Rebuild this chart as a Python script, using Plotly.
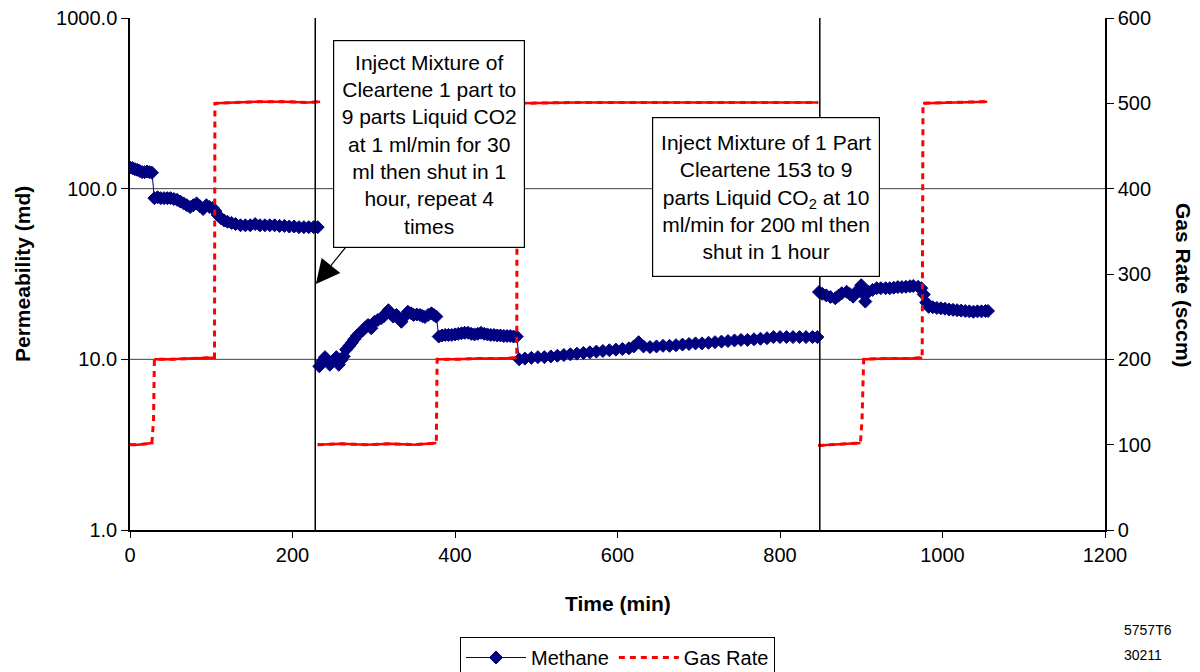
import plotly.graph_objects as go
import math

# ---------------- data ----------------
# Methane permeability (md) vs time (min); None marks gaps between test stages
meth_t = [0, 3, 6, 9, 12, 15, 18, 21, 24, 27, 30, 34, 38, 42, 46, 50, 54, 58, 62, 66, 70, 74, 78, 82, 86, 90,
          94, 98, 102, 105, 108, 112, 116, 120, 125, 130, 136, 142, 148, 154, 160, 166, 172, 178, 184, 190,
          196, 202, 208, 214, 220, 226, 231,
          None,
          233, 237, 240, 243, 246, 250, 254, 257, 260, 263, 266, 270, 273, 276, 279, 283, 287, 290, 293, 297,
          301, 305, 309, 312, 315, 318, 321, 324, 328, 331, 334, 338, 342, 346, 349, 353, 357, 360, 363, 367,
          371, 374, 377, 380, 384, 388, 392, 396, 400, 404, 408, 412, 416, 420, 424, 428, 432, 436, 440, 444,
          448, 452, 456, 460, 464, 468, 472, 476,
          479, 486, 494, 502, 510, 518, 526, 534, 542, 550, 558, 566, 574, 582, 590, 598, 606, 614, 620, 626,
          632, 640, 648, 656, 664, 672, 680, 688, 696, 704, 712, 720, 728, 736, 744, 752, 760, 768, 776, 784,
          792, 800, 808, 816, 824, 832, 840, 846,
          None,
          848, 852, 857, 862, 868, 872, 876, 882, 886, 890, 895, 900, 903, 905, 909, 914, 919, 924, 930, 935,
          940, 945, 950, 955, 960, 964, 970, 974, 977, 980, 983, 988, 993, 998, 1003, 1008, 1013, 1018, 1023,
          1028, 1033, 1038, 1043, 1048, 1053, 1056]
meth_k = [133, 132, 130, 129, 127, 125, 125, 126, 125, 124, 88, 89, 88, 88, 88, 88, 87, 86, 84, 82, 80, 78, 80, 82,
          79, 76, 80, 78, 77, 74, 70, 67, 65, 64, 63, 62, 61, 61, 61, 62, 61, 61, 61, 61, 60.5, 60.5, 60, 60,
          59.5, 59.5, 59.5, 59.5, 59.5,
          None,
          9.1, 9.8, 10.3, 9.8, 9.3, 9.8, 10.3, 9.3, 9.9, 10.4, 11.4, 12.0, 12.5, 13.1, 13.7, 14.3, 14.9, 15.4,
          15.9, 15.2, 16.6, 17.0, 17.4, 17.8, 18.6, 19.4, 18.5, 17.8, 18.2, 17.4, 16.6, 17.8, 19.0, 18.6, 18.2,
          18.3, 18.2, 17.9, 17.7, 18.2, 18.6, 18.2, 17.8, 13.6, 13.8, 13.9, 13.9, 13.9, 14.0, 14.1, 14.2, 14.3,
          14.3, 14.1, 14.0, 14.1, 14.3, 14.1, 14.0, 13.9, 13.9, 13.8, 13.8, 13.7, 13.7, 13.7, 13.6, 13.6,
          10.0, 10.1, 10.2, 10.3, 10.3, 10.4, 10.5, 10.6, 10.7, 10.8, 10.9, 11.0, 11.1, 11.2, 11.3, 11.4, 11.5,
          11.6, 11.9, 12.6, 11.9, 11.8, 11.9, 12.0, 12.0, 12.1, 12.2, 12.3, 12.4, 12.4, 12.5, 12.6, 12.7, 12.8,
          12.9, 13.0, 13.0, 13.1, 13.2, 13.3, 13.5, 13.5, 13.5, 13.5, 13.5, 13.5, 13.5, 13.5,
          None,
          24.8, 24.2, 23.7, 23.2, 22.8, 23.6, 24.4, 24.9, 24.1, 23.3, 25.2, 27.2, 24.0, 21.8, 24.9, 25.5, 26.1,
          26.1, 26.1, 26.1, 26.3, 26.5, 26.5, 26.6, 26.8, 26.9, 26.6, 26.1, 24.0, 21.5, 20.3, 20.2, 20.0, 19.9,
          19.8, 19.6, 19.5, 19.4, 19.3, 19.2, 19.1, 19.0, 19.1, 19.1, 19.2, 19.2]

# Gas rate (sccm) vs time (min)
gas_t = [0, 10, 20, 27, 29, 30, 50, 70, 90, 104, 104.5, 130, 160, 190, 220, 234,
         None,
         231, 260, 290, 320, 350, 377, 378, 400, 430, 460, 476, 476.5, 550, 650, 750, 847,
         None,
         847, 870, 890, 899, 901, 903, 930, 960, 975, 976, 1010, 1055]
gas_q = [100, 100, 101, 102, 130, 200, 200, 201, 202, 202, 500, 501, 502, 502, 501, 502,
         None,
         100, 101, 100, 101, 100, 102, 200, 200, 201, 201, 202, 500, 501, 501, 501, 501,
         None,
         99, 100, 101, 102, 130, 200, 201, 201, 202, 500, 501, 502]

event_t = [228, 849]             # injection events (vertical lines)
grid_k = [10, 100]               # horizontal gridlines on permeability axis
perm_ticks = [1, 10, 100, 1000]
perm_labels = ["1.0", "10.0", "100.0", "1000.0"]
rate_ticks = [0, 100, 200, 300, 400, 500, 600]
time_ticks = [0, 200, 400, 600, 800, 1000, 1200]

note1 = ("Inject Mixture of<br>Cleartene 1 part to<br>9 parts Liquid CO2<br>at 1 ml/min for 30<br>"
         "ml then shut in 1<br>hour, repeat 4<br>times")
note2 = ("Inject Mixture of 1 Part<br>Cleartene 153 to 9<br>parts Liquid CO<sub>2</sub> at 10<br>"
         "ml/min for 200 ml then<br>shut in 1 hour")
arrow_target = (228, 27.3)

# ---------------- figure ----------------
FONT = "Liberation Sans, Arial, sans-serif"
NAVY = "#000080"
RED = "#FF0000"

fig = go.Figure()

# Gas rate: dashed (legend + vertical jumps)
fig.add_trace(go.Scatter(x=gas_t, y=gas_q, mode="lines", name="Gas Rate", yaxis="y2",
                         line=dict(color=RED, width=3, dash="6px,5px"), connectgaps=False))
# horizontal plateaus drawn solid (as they appear in the original)
ov_t, ov_q = [], []
prev = None
for t, q in zip(gas_t, gas_q):
    if q is None:
        ov_t.append(None); ov_q.append(None); prev = None; continue
    if prev is not None and abs(q - prev) > 20:
        ov_t.append(None); ov_q.append(None)
    ov_t.append(t); ov_q.append(q); prev = q
fig.add_trace(go.Scatter(x=ov_t, y=ov_q, mode="lines", yaxis="y2", showlegend=False,
                         line=dict(color=RED, width=2.5), hoverinfo="skip"))

fig.add_trace(go.Scatter(x=meth_t, y=meth_k, mode="lines+markers", name="Methane",
                         line=dict(color=NAVY, width=1),
                         marker=dict(symbol="diamond", size=10, color=NAVY, line=dict(color=NAVY, width=1)),
                         connectgaps=False))

shapes = []
for g in grid_k:
    shapes.append(dict(type="line", xref="paper", x0=0, x1=1, yref="y", y0=g, y1=g,
                       line=dict(color="#404040", width=1), layer="below"))
for e in event_t:
    shapes.append(dict(type="line", xref="x", x0=e, x1=e, yref="paper", y0=0, y1=1,
                       line=dict(color="black", width=1.5), layer="above"))

annotations = [
    dict(text=note1, x=arrow_target[0], y=math.log10(arrow_target[1]), xref="x", yref="y",
         showarrow=True, ax=114, ay=-141, arrowhead=2, arrowsize=4, arrowwidth=1.2, arrowcolor="black",
         standoff=1, font=dict(family=FONT, size=21, color="black"), align="center",
         bgcolor="white", bordercolor="black", borderwidth=1.2, borderpad=2, width=186, height=202),
    dict(text=note2, x=(766 - 130) / 975, y=(530 - 197) / 512, xref="paper", yref="paper", showarrow=False,
         font=dict(family=FONT, size=21, color="black"), align="center",
         bgcolor="white", bordercolor="black", borderwidth=1.2, borderpad=2, width=222, height=154),
    dict(text="<b>Permeability (md)</b>", x=(22 - 130) / 975, y=0.5, xref="paper", yref="paper",
         showarrow=False, xanchor="center", yanchor="middle",
         textangle=-90, font=dict(family=FONT, size=21, color="black")),
    dict(text="<b>Gas Rate (sccm)</b>", x=(1184 - 130) / 975, y=(530 - 285) / 512, xref="paper", yref="paper",
         showarrow=False, xanchor="center", yanchor="middle",
         textangle=90, font=dict(family=FONT, size=21, color="black")),
    dict(text="<b>Time (min)</b>", x=0.5, y=(530 - 603) / 512, xref="paper", yref="paper", showarrow=False,
         xanchor="center", yanchor="middle", font=dict(family=FONT, size=21, color="black")),
    dict(text="5757T6", x=(1122 - 130) / 975, y=(530 - 630) / 512, xref="paper", yref="paper",
         showarrow=False, xanchor="left", yanchor="middle", font=dict(family=FONT, size=14, color="black")),
    dict(text="30211", x=(1122 - 130) / 975, y=(530 - 655) / 512, xref="paper", yref="paper",
         showarrow=False, xanchor="left", yanchor="middle", font=dict(family=FONT, size=14, color="black")),
]

fig.update_layout(
    width=1200, height=672,
    margin=dict(l=130, r=95, t=18, b=142, autoexpand=False),
    paper_bgcolor="white", plot_bgcolor="white",
    font=dict(family=FONT, size=20, color="black"),
    xaxis=dict(range=[0, 1200], tickvals=time_ticks, showgrid=False, zeroline=False, automargin=False,
               showline=True, linecolor="black", linewidth=1.5, ticks="outside", ticklen=6,
               tickcolor="black", tickfont=dict(size=20)),
    yaxis=dict(type="log", range=[0, 3], tickvals=perm_ticks, ticktext=perm_labels, showgrid=False,
               zeroline=False, showline=True, linecolor="black", linewidth=1.5, ticks="outside",
               ticklen=7, tickcolor="black", tickfont=dict(size=20), automargin=False),
    yaxis2=dict(range=[0, 600], tickvals=rate_ticks, overlaying="y", side="right", showgrid=False,
                zeroline=False, showline=True, linecolor="black", linewidth=1.5, ticks="outside",
                ticklen=7, tickcolor="black", tickfont=dict(size=20), automargin=False),
    legend=dict(orientation="h", x=0.5, xanchor="center", yref="container", y=(672 - 637) / 672,
                yanchor="top", bordercolor="black", borderwidth=1, bgcolor="white",
                font=dict(family=FONT, size=20), traceorder="reversed", itemwidth=60),
    shapes=shapes, annotations=annotations, showlegend=True,
)

fig.write_html("out.html")
